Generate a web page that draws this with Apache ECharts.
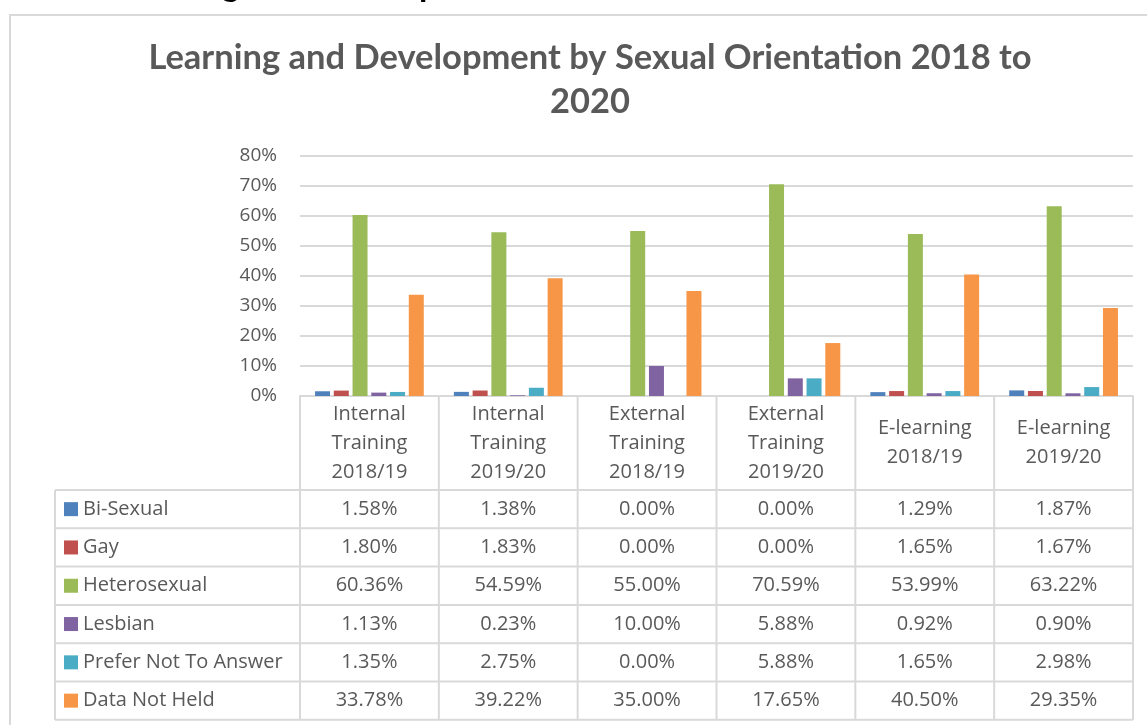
<!DOCTYPE html>
<html>
<head>
<meta charset="utf-8">
<script src="https://cdn.jsdelivr.net/npm/echarts@6/dist/echarts.min.js"></script>
<style>
  html, body { margin: 0; padding: 0; background: #fff; }
  #chart { width: 1147px; height: 725px; }
</style>
</head>
<body>
<div id="chart"></div>
<script>
const categories = [
  'Internal\nTraining\n2018/19',
  'Internal\nTraining\n2019/20',
  'External\nTraining\n2018/19',
  'External\nTraining\n2019/20',
  'E-learning\n2018/19',
  'E-learning\n2019/20'
]
const seriesNames = ['Bi-Sexual', 'Gay', 'Heterosexual', 'Lesbian', 'Prefer Not To Answer', 'Data Not Held']
const biSexual = [1.58, 1.38, 0.00, 0.00, 1.29, 1.87]
const gay = [1.80, 1.83, 0.00, 0.00, 1.65, 1.67]
const heterosexual = [60.36, 54.59, 55.00, 70.59, 53.99, 63.22]
const lesbian = [1.13, 0.23, 10.00, 5.88, 0.92, 0.90]
const preferNot = [1.35, 2.75, 0.00, 5.88, 1.65, 2.98]
const notHeld = [33.78, 39.22, 35.00, 17.65, 40.50, 29.35]
const colors = ['#4F81BD', '#C0504D', '#9BBB59', '#8064A2', '#4BACC6', '#F79646']

const values = [biSexual, gay, heterosexual, lesbian, preferNot, notHeld]
const font = '"Open Sans", sans-serif'
const titleFont = 'Lato, "Open Sans", sans-serif'
const textColor = '#595959'
const lineColor = '#d9d9d9'

const W = 1147
const H = 725
const gridLeft = 300
const gridRight = 1133
const gridTop = 156
const gridBottom = 396
const headerBottom = 490
const rowH = 38.3
const tableLeft = 55

const chart = echarts.init(document.getElementById('chart'), null, { renderer: 'canvas' })

chart.setOption({
  animation: false,
  title: {
    text: 'Learning and Development by Sexual Orientation 2018 to\n2020',
    left: 585,
    textAlign: 'center',
    top: 31,
    textStyle: {
      fontFamily: titleFont,
      fontSize: 34.5,
      fontWeight: 'bold',
      color: textColor,
      lineHeight: 44
    }
  },
  grid: {
    left: gridLeft,
    right: W - gridRight,
    top: gridTop,
    bottom: H - gridBottom
  },
  xAxis: {
    type: 'category',
    data: categories,
    axisLine: { lineStyle: { color: lineColor, width: 2 } },
    axisTick: { show: false },
    axisLabel: {
      interval: 0,
      margin: 47,
      verticalAlign: 'middle',
      fontFamily: font,
      fontSize: 20,
      lineHeight: 29,
      color: textColor
    }
  },
  yAxis: {
    type: 'value',
    min: 0,
    max: 80,
    interval: 10,
    axisLine: { show: false },
    axisTick: { show: false },
    splitLine: { lineStyle: { color: lineColor, width: 2 } },
    axisLabel: {
      margin: 23,
      fontFamily: font,
      fontSize: 19,
      color: textColor,
      formatter: (v) => v + '%'
    }
  },
  series: seriesNames.map((name, i) => ({
    name: name,
    type: 'bar',
    data: values[i],
    barWidth: 15,
    barGap: '25%',
    itemStyle: { color: colors[i] }
  }))
})

// data table under the axis, laid out from the category axis
function buildTable() {
  const n = categories.length
  const step = (gridRight - gridLeft) / n
  const tableBottom = headerBottom + rowH * seriesNames.length
  const els = []
  const line = (x1, y1, x2, y2) => ({
    type: 'line',
    silent: true,
    shape: { x1, y1, x2, y2 },
    style: { stroke: lineColor, lineWidth: 2 }
  })

  // outer chart frame
  els.push({
    type: 'rect',
    silent: true,
    shape: { x: 10, y: 15, width: W + 20, height: H },
    style: { fill: null, stroke: lineColor, lineWidth: 2 }
  })

  // cut-off page heading above the chart (only descenders show)
  els.push({
    type: 'text',
    silent: true,
    style: {
      x: 110,
      y: -32,
      text: 'Learning and Development',
      fontFamily: titleFont,
      fontSize: 34,
      fontWeight: 'bold',
      fill: '#000'
    }
  })

  // vertical lines
  for (let i = 0; i <= n; i++) {
    const x = gridLeft + i * step
    els.push(line(x, gridBottom, x, tableBottom))
  }
  els.push(line(tableLeft, headerBottom, tableLeft, tableBottom))

  // horizontal lines
  for (let r = 0; r <= seriesNames.length; r++) {
    const y = headerBottom + r * rowH
    els.push(line(tableLeft, y, gridRight, y))
  }

  seriesNames.forEach((name, r) => {
    const cy = headerBottom + (r + 0.5) * rowH
    els.push({
      type: 'rect',
      silent: true,
      shape: { x: 64, y: cy - 7, width: 14, height: 14 },
      style: { fill: colors[r] }
    })
    els.push({
      type: 'text',
      silent: true,
      style: {
        x: 83, y: cy, text: name,
        fontFamily: font, fontSize: 20, fill: textColor,
        verticalAlign: 'middle', align: 'left'
      }
    })
    values[r].forEach((v, c) => {
      const cx = chart.convertToPixel({ xAxisIndex: 0 }, c)
      els.push({
        type: 'text',
        silent: true,
        style: {
          x: cx, y: cy, text: v.toFixed(2) + '%',
          fontFamily: font, fontSize: 20, fill: textColor,
          verticalAlign: 'middle', align: 'center'
        }
      })
    })
  })
  chart.setOption({ graphic: { elements: els } })
}

buildTable()
</script>
</body>
</html>
